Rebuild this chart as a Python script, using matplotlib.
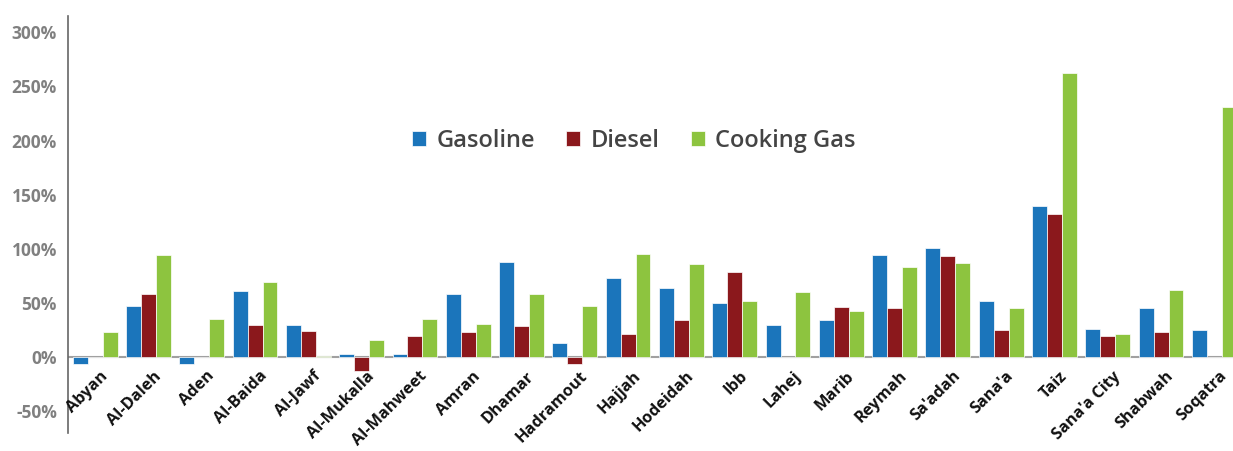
import matplotlib
matplotlib.use("Agg")
import matplotlib.pyplot as plt
import matplotlib.transforms as mtransforms
import numpy as np

categories = ["Abyan", "Al-Daleh", "Aden", "Al-Baida", "Al-Jawf", "Al-Mukalla", "Al-Mahweet",
              "Amran", "Dhamar", "Hadramout", "Hajjah", "Hodeidah", "Ibb", "Lahej", "Marib",
              "Reymah", "Sa'adah", "Sana'a", "Taiz", "Sana'a City", "Shabwah", "Soqatra"]
gasoline = [-6, 47, -6, 61, 30, 3, 3, 58, 88, 13, 73, 64, 50, 30, 34, 94, 101, 52, 140, 26, 45, 25]
diesel = [0, 58, 0, 30, 24, -13, 20, 23, 29, -6, 21, 34, 79, 0, 46, 45, 93, 25, 132, 20, 23, 0]
cooking_gas = [23, 94, 35, 69, 1.5, 16, 35, 31, 58, 47, 95, 86, 52, 60, 43, 83, 87, 45, 262, 21, 62, 231]
series_names = ["Gasoline", "Diesel", "Cooking Gas"]
yticks = [-50, 0, 50, 100, 150, 200, 250, 300]

colors = ["#1b75bb", "#8b181c", "#8dc43f"]

plt.rcParams['font.family'] = ['Open Sans', 'DejaVu Sans']

W, H = 1233, 451
fig = plt.figure(figsize=(W / 100, H / 100), dpi=100)
left, right, top, bottom = 68, 1233, 16, 433
ax = fig.add_axes([left / W, 1 - bottom / H, (right - left) / W, (bottom - top) / H])

x = np.arange(len(categories))
bw = 0.28
for k, (vals, name) in enumerate(zip([gasoline, diesel, cooking_gas], series_names)):
    ax.bar(x + (k - 1) * bw, vals, width=bw, color=colors[k], edgecolor="white",
           linewidth=0.5, label=name, zorder=3)

ax.set_xlim(-0.51, 21.35)
ax.set_ylim(-70, 315)
ax.axhline(0, color="#a0a0a0", linewidth=1.5, zorder=2)

for s in ["top", "right", "bottom"]:
    ax.spines[s].set_visible(False)
ax.spines["left"].set_color("#666666")
ax.spines["left"].set_linewidth(1.2)

ax.set_yticks(yticks)
ax.set_yticklabels([f"{v}%" for v in yticks], fontsize=12.5, fontweight="bold", color="#808080")
ax.tick_params(axis="y", length=0, pad=8)
ax.set_xticks([])

offset = mtransforms.ScaledTranslation(0.045, -0.11, fig.dpi_scale_trans)
trans = ax.transData + offset
for i, c in enumerate(categories):
    ax.text(i, 0, c, rotation=45, rotation_mode="anchor", ha="right", va="top",
            fontsize=11.8, fontweight="bold", color="#111111", transform=trans, clip_on=False)

leg = fig.legend(loc="center", bbox_to_anchor=(634 / W, 1 - 141 / H), ncol=3, frameon=False,
                 prop={"size": 17, "weight": "semibold"}, handlelength=0.6, handleheight=0.6,
                 handletextpad=0.45, columnspacing=1.3)
for t in leg.get_texts():
    t.set_color("#444444")

fig.savefig("out.png", dpi=100)
